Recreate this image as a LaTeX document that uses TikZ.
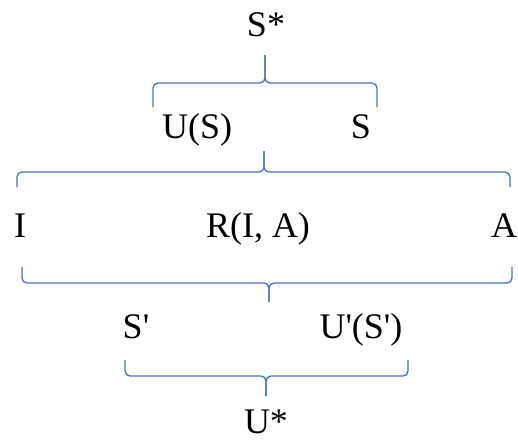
\documentclass[tikz,border=0pt]{standalone}
\usepackage{fontspec}
\setmainfont{Liberation Serif}[Ligatures=TeXOff]
\usepackage{tikz}
\definecolor{brcblue}{RGB}{68,114,196}
\tikzstyle{lbl} = [anchor=base, inner sep=0pt, font=\fontsize{36}{40}\selectfont]
\tikzstyle{brc} = [draw=brcblue, line width=1.3pt, rounded corners=5pt]

% brace: left x, right x, end y, line y, tip x, tip y
\newcommand{\grpbrace}[6]{%
  \draw[brc] (#1,#3) |- (#5,#4) -- (#5,#6);
  \draw[brc] (#2,#3) |- (#5,#4) -- (#5,#6);
}

\begin{document}
\begin{tikzpicture}[x=1pt, y=-1pt]
        \useasboundingbox (0,0) rectangle (518,442);

        \node[lbl] (sstar) at (266,36) {S*};
        \node[lbl, anchor=base west] (us) at (162,138) {U(S)};
        \node[lbl] (s) at (361,138) {S};
        \node[lbl] (i) at (20,237) {I};
        \node[lbl] (ria) at (258,237) {R(I, A)};
        \node[lbl] (a) at (504,237) {A};
        \node[lbl] (sp) at (136,338) {S'};
        \node[lbl] (usp) at (361,338) {U'(S')};
        \node[lbl] (ustar) at (266,433) {U*};

        \grpbrace{153}{377}{107}{83}{265}{55}
        \grpbrace{17}{510}{187}{172}{264}{151}
        \grpbrace{22}{512}{267}{283}{269}{302}
        \grpbrace{125}{408}{360}{376}{266}{396}

    \end{tikzpicture}
\end{document}
